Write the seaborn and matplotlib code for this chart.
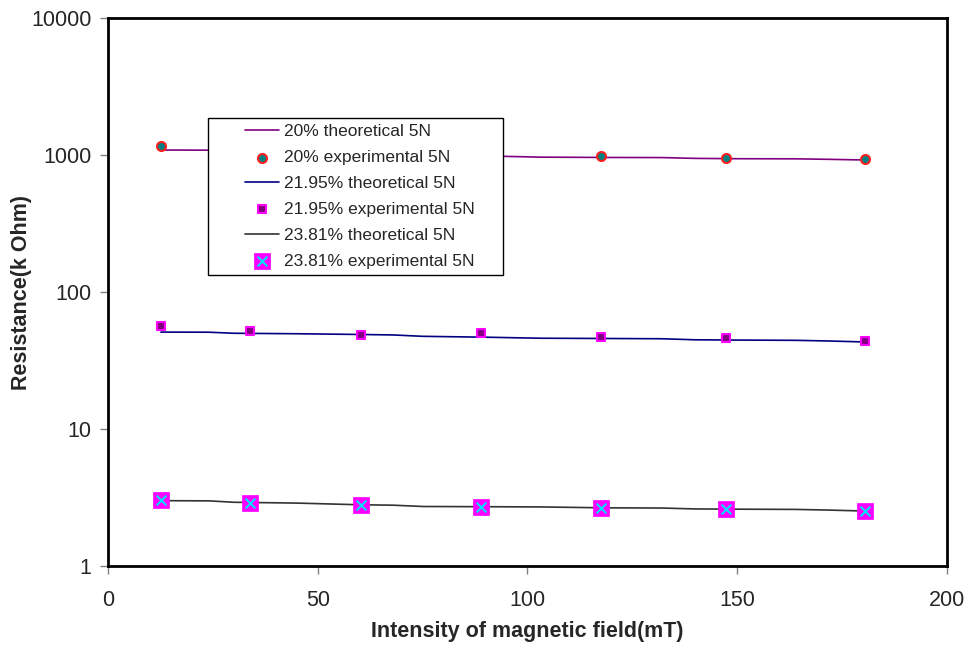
import numpy as np
import pandas as pd
import seaborn as sns
import matplotlib.pyplot as plt
from matplotlib.lines import Line2D
from matplotlib.collections import PathCollection
from matplotlib.legend_handler import HandlerLine2D, HandlerPathCollection

sns.set_style('white')
plt.rcParams['font.family'] = ['Liberation Sans', 'DejaVu Sans']

# Experimental points (mT, k Ohm)
field_exp = [12.6, 33.8, 60.3, 88.9, 117.5, 147.3, 180.4]
exp_20 = [1164, 1080, 1040, 1000, 984, 951, 935]
exp_2195 = [56.5, 51.9, 48.5, 50.2, 47.0, 46.2, 43.8]
exp_2381 = [3.03, 2.88, 2.79, 2.70, 2.65, 2.61, 2.52]

# Theoretical curves
field_th = [12.6, 24, 30, 45, 60, 68, 75, 90, 103, 118, 132, 140, 150, 164, 172, 180.4]
th_20 = [1088, 1085, 1060, 1050, 1030, 1010, 1000, 985, 965, 960, 958, 945, 940, 938, 930, 920]
th_2195 = [51.0, 50.9, 50.0, 49.6, 49.0, 48.6, 47.5, 46.8, 46.0, 45.8, 45.6, 44.8, 44.6, 44.4, 43.9, 43.2]
th_2381 = [3.00, 2.99, 2.92, 2.88, 2.80, 2.78, 2.72, 2.71, 2.70, 2.66, 2.65, 2.61, 2.60, 2.59, 2.56, 2.52]

th = pd.DataFrame({'field': field_th * 3,
                   'R': th_20 + th_2195 + th_2381,
                   'series': ['20% theoretical 5N'] * 16 + ['21.95% theoretical 5N'] * 16
                             + ['23.81% theoretical 5N'] * 16})

line_colors = {'20% theoretical 5N': '#800080',
               '21.95% theoretical 5N': '#000080',
               '23.81% theoretical 5N': '#333333'}


# legend handles drawn in the right part of the handle box (Excel look)
def shifted_x(xdescent, width):
    x0 = -xdescent + width * 0.48
    x1 = -xdescent + width
    return np.array([x0, x1]), np.array([(x0 + x1) / 2])


class LineHandler(HandlerLine2D):
    def get_xdata(self, legend, xdescent, ydescent, width, height, fontsize):
        return shifted_x(xdescent, width)


class DotHandler(HandlerPathCollection):
    def get_xdata(self, legend, xdescent, ydescent, width, height, fontsize):
        return shifted_x(xdescent, width)


fig, ax = plt.subplots(figsize=(9.67, 6.46), dpi=100)
fig.subplots_adjust(left=0.1117, right=0.9793, top=0.9721, bottom=0.1238)

h = {}
for s in line_colors:
    d = th[th['series'] == s]
    sns.lineplot(data=d, x='field', y='R', color=line_colors[s], lw=1.2, ax=ax, label=s)
    h[s] = ax.lines[-1]

sns.scatterplot(x=field_exp, y=exp_20, marker='o', s=42, color='#008080',
                edgecolor='#ff2020', linewidth=1.5, ax=ax, zorder=5, label='20% experimental 5N')
h['20% experimental 5N'] = ax.collections[-1]
sns.scatterplot(x=field_exp, y=exp_2195, marker='s', s=36, color='#800080',
                edgecolor='#ff00ff', linewidth=1.5, ax=ax, zorder=5, label='21.95% experimental 5N')
h['21.95% experimental 5N'] = ax.collections[-1]
sns.scatterplot(x=field_exp, y=exp_2381, marker='s', s=120, color='#ff00ff',
                edgecolor='#ff00ff', linewidth=0.5, ax=ax, zorder=5, label='23.81% experimental 5N')
h['23.81% experimental 5N'] = ax.collections[-1]
sns.scatterplot(x=field_exp, y=exp_2381, marker='x', s=50, color='#00e0ff',
                linewidth=1.5, ax=ax, zorder=6, legend=False)
cross = ax.collections[-1]

ax.set_yscale('log')
ax.set_xlim(0, 200)
ax.set_ylim(1, 10000)
ax.set_xticks([0, 50, 100, 150, 200])
ax.set_yticks([1, 10, 100, 1000, 10000])
ax.set_yticklabels(['1', '10', '100', '1000', '10000'])
ax.minorticks_off()
ax.tick_params(axis='both', labelsize=15.5, direction='out', length=6, width=1, color='#808080',
               left=True, bottom=True)
ax.tick_params(axis='x', pad=11)
ax.tick_params(axis='y', pad=6)
ax.set_xlabel('Intensity of magnetic field(mT)', fontsize=15.5, fontweight='bold')
ax.set_ylabel('Resistance(k Ohm)', fontsize=15.5, fontweight='bold')
ax.xaxis.set_label_coords(0.5, -0.1)
ax.yaxis.set_label_coords(-0.0906, 0.5)
for side in ['left', 'bottom', 'top', 'right']:
    ax.spines[side].set_linewidth(2)
    ax.spines[side].set_color('black')

order = ['20% theoretical 5N', '20% experimental 5N', '21.95% theoretical 5N',
         '21.95% experimental 5N', '23.81% theoretical 5N', '23.81% experimental 5N']
handles = [h[o] for o in order]
handles[5] = (h['23.81% experimental 5N'], cross)
leg = ax.legend(handles, order, loc='upper left', bbox_to_anchor=(0.1192, 0.8075, 0.3516, 0.01),
                mode='expand', fontsize=12.5, frameon=True, fancybox=False, edgecolor='black',
                framealpha=1, borderpad=0.35, labelspacing=0.62, handlelength=3.75,
                handletextpad=0.25, borderaxespad=0,
                handler_map={Line2D: LineHandler(), PathCollection: DotHandler()})
leg.get_frame().set_linewidth(1)

plt.savefig('out.png')
plt.close()
